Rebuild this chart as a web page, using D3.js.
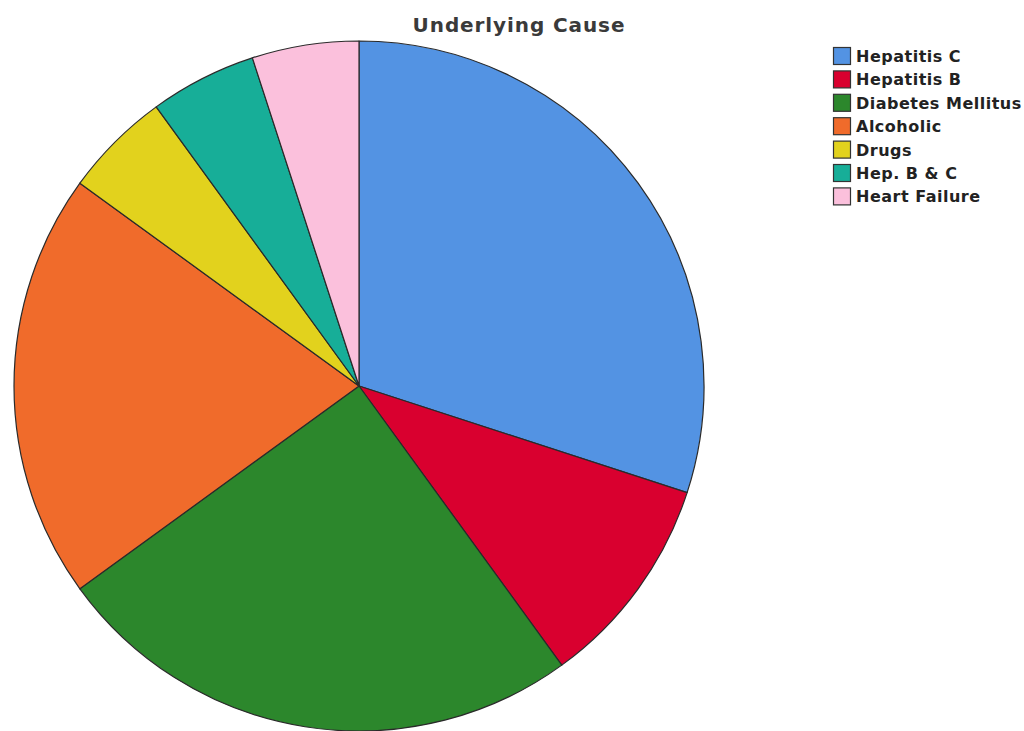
<!DOCTYPE html>
<html><head><meta charset="utf-8">
<script src="https://cdn.jsdelivr.net/npm/d3@7"></script>
<style>body{margin:0;background:#fff;}svg{display:block;}</style>
</head><body>
<svg id="c" width="1024" height="731"></svg>
<script>
const categories = ["Hepatitis C","Hepatitis B","Diabetes Mellitus","Alcoholic","Drugs","Hep. B & C","Heart Failure"];
const values = [30, 10, 25, 20, 5, 5, 5];
const colors = ["#5393e3","#d9002f","#2c872c","#f06b2b","#e2d21d","#17ae98","#fbc0dc"];
const title = "Underlying Cause";

const svg = d3.select("#c");
const cx = 359, cy = 386, r = 345;
const pie = d3.pie().sort(null).value(d => d.v);
const data = categories.map((c,i)=>({c, v: values[i], col: colors[i]}));
const arc = d3.arc().innerRadius(0).outerRadius(r);
svg.append("g").attr("transform",`translate(${cx},${cy})`)
  .selectAll("path").data(pie(data)).join("path")
  .attr("d", arc).attr("fill", d=>d.data.col)
  .attr("stroke","#2a2a2a").attr("stroke-width",1.2).attr("stroke-linejoin","round");

svg.append("text").attr("x",519).attr("y",32).attr("text-anchor","middle")
  .attr("font-family","DejaVu Sans, sans-serif").attr("font-weight","bold")
  .attr("font-size",20).attr("letter-spacing",0.9).attr("fill","#3a3a3a").text(title);

const lg = svg.append("g").attr("transform","translate(833,47)");
const row = lg.selectAll("g").data(data).join("g").attr("transform",(d,i)=>`translate(0,${i*23.4})`);
row.append("rect").attr("x",0.5).attr("y",0.5).attr("width",17).attr("height",17)
  .attr("fill",d=>d.col).attr("stroke","#333").attr("stroke-width",1.2);
row.append("text").attr("x",23).attr("y",15)
  .attr("font-family","DejaVu Sans, sans-serif").attr("font-weight","bold")
  .attr("font-size",16).attr("letter-spacing",0.5).attr("fill","#222").text(d=>d.c);
</script>
</body></html>
